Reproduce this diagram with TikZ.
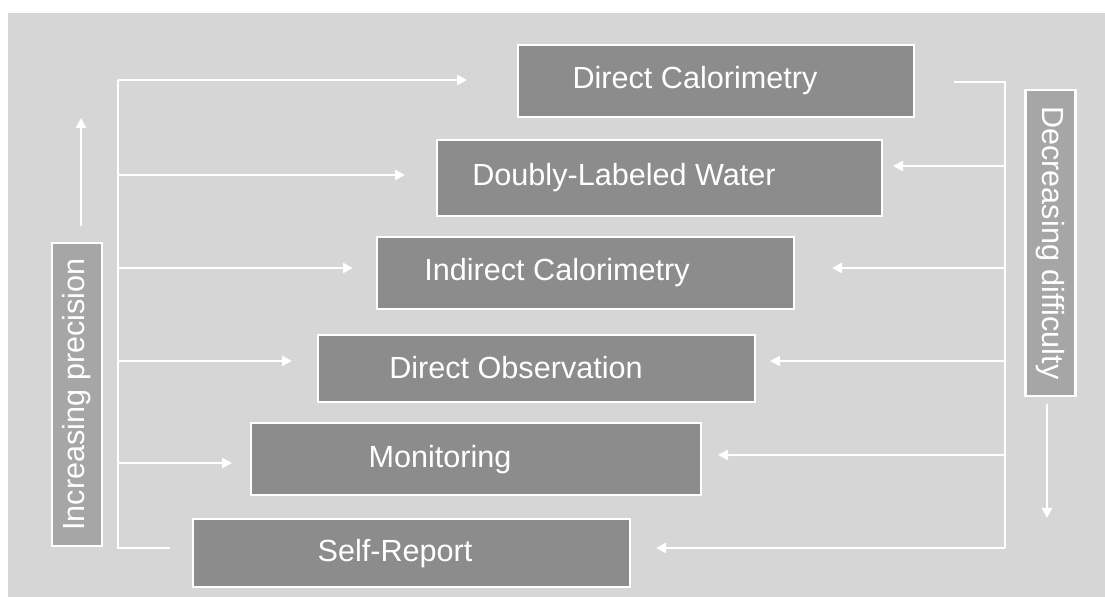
\documentclass[tikz,border=0pt]{standalone}
\usepackage{fontspec}
\setmainfont{Liberation Sans}
\usetikzlibrary{arrows.meta}
\definecolor{panel}{HTML}{D6D6D6}
\definecolor{boxfill}{HTML}{8C8C8C}
\definecolor{sidefill}{HTML}{A6A6A6}
\begin{document}
\begin{tikzpicture}
[x=0.5pt,y=-0.5pt,%
  wire/.style={draw=white,line width=1.4pt},%
  flow/.style={wire,-{Triangle[length=5pt,width=5pt]}},%
  stepbox/.style={shape=rectangle,draw=white,line width=1.4pt,fill=boxfill,inner sep=0pt},%
  sidebox/.style={stepbox,fill=sidefill,text=white,minimum height=25pt},%
  every node/.style={font=\fontsize{15.3}{18}\selectfont}]
\useasboundingbox (0,0) rectangle (1105,597);
\fill[panel] (8,13) rectangle (1105,597);
\node[stepbox,minimum width=198pt,minimum height=36pt] (dc) at (716,81) {};
\node[stepbox,minimum width=222.5pt,minimum height=38pt] (dlw) at (659.5,178) {};
\node[stepbox,minimum width=208.5pt,minimum height=36pt] (ic) at (585.5,273) {};
\node[stepbox,minimum width=218.5pt,minimum height=33.5pt] (do) at (536.5,368.5) {};
\node[stepbox,minimum width=225pt,minimum height=36pt] (mon) at (476,459) {};
\node[stepbox,minimum width=218.5pt,minimum height=34pt] (sr) at (411.5,553) {};
\node[text=white] (dct) at (695,81) {Direct Calorimetry};
\node[text=white] (dlwt) at (624,178) {Doubly-Labeled Water};
\node[text=white] (ict) at (557,273) {Indirect Calorimetry};
\node[text=white] (dot) at (516,368) {Direct Observation};
\node[text=white] (mont) at (440,460) {Monitoring};
\node[text=white] (srt) at (395,554) {Self-Report};
\node[sidebox,rotate=90,minimum width=151.5pt] (prec) at (77,394.5) {Increasing precision};
\node[sidebox,rotate=-90,minimum width=153pt] (diff) at (1050.5,243) {Decreasing difficulty};
\coordinate (lt) at (118,80);
\coordinate (lb) at (118,548);
\coordinate (rs) at (954,82);
\coordinate (rt) at (1005,82);
\coordinate (rb) at (1005,548);
\draw[wire] (lt) -- (lb) -- (170,548) coordinate (le6);
\draw[wire] (rs) -- (rt) -- (rb);
\foreach \n/\y/\xe in {1/80/467,2/175/405,3/268/353,4/361/292,5/463/232}
{
  \coordinate (ls\n) at (118,\y);
  \coordinate (le\n) at (\xe,\y);
  \draw[flow] (ls\n) -- (le\n);
}
\foreach \n/\y/\xe in {2/166/893,3/268/832,4/361/770,5/455/718,6/548/656}
{
  \coordinate (rs\n) at (1005,\y);
  \coordinate (re\n) at (\xe,\y);
  \draw[flow] (rs\n) -- (re\n);
}
\coordinate (pu0) at (81,226);
\coordinate (pu1) at (81,118);
\coordinate (dd0) at (1047,404);
\coordinate (dd1) at (1047,518);
\draw[flow] (pu0) -- (pu1);
\draw[flow] (dd0) -- (dd1);
\end{tikzpicture}
\end{document}
